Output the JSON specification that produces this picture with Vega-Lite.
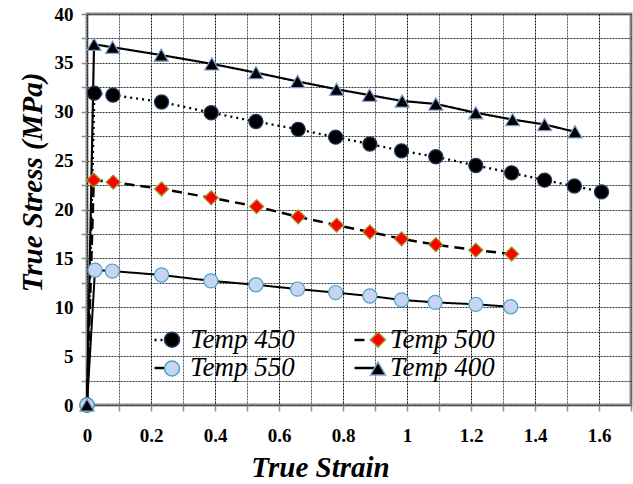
{
  "$schema": "https://vega.github.io/schema/vega-lite/v6.json",
  "width": 544,
  "height": 391,
  "autosize": {"type": "none"},
  "padding": {"left": 87, "top": 14, "right": 2, "bottom": 79},
  "background": "white",
  "config": {
    "view": {"stroke": "#8c8c8c", "strokeWidth": 3},
    "font": "Liberation Serif"
  },
  "data": {
    "values": [
      {"series": "Temp 450", "strain": 0, "stress": 0},
      {"series": "Temp 450", "strain": 0.023, "stress": 31.9},
      {"series": "Temp 450", "strain": 0.081, "stress": 31.7},
      {"series": "Temp 450", "strain": 0.233, "stress": 31.0},
      {"series": "Temp 450", "strain": 0.388, "stress": 29.9},
      {"series": "Temp 450", "strain": 0.528, "stress": 29.0},
      {"series": "Temp 450", "strain": 0.66, "stress": 28.2},
      {"series": "Temp 450", "strain": 0.777, "stress": 27.4},
      {"series": "Temp 450", "strain": 0.884, "stress": 26.7},
      {"series": "Temp 450", "strain": 0.983, "stress": 26.0},
      {"series": "Temp 450", "strain": 1.09, "stress": 25.4},
      {"series": "Temp 450", "strain": 1.215, "stress": 24.5},
      {"series": "Temp 450", "strain": 1.327, "stress": 23.75},
      {"series": "Temp 450", "strain": 1.43, "stress": 23.0},
      {"series": "Temp 450", "strain": 1.523, "stress": 22.4},
      {"series": "Temp 450", "strain": 1.608, "stress": 21.8},
      {"series": "Temp 500", "strain": 0, "stress": 0},
      {"series": "Temp 500", "strain": 0.021, "stress": 23.0},
      {"series": "Temp 500", "strain": 0.082, "stress": 22.8},
      {"series": "Temp 500", "strain": 0.233, "stress": 22.1},
      {"series": "Temp 500", "strain": 0.388, "stress": 21.2},
      {"series": "Temp 500", "strain": 0.53, "stress": 20.3},
      {"series": "Temp 500", "strain": 0.66, "stress": 19.25},
      {"series": "Temp 500", "strain": 0.78, "stress": 18.4},
      {"series": "Temp 500", "strain": 0.884, "stress": 17.7},
      {"series": "Temp 500", "strain": 0.983, "stress": 17.0},
      {"series": "Temp 500", "strain": 1.09, "stress": 16.4},
      {"series": "Temp 500", "strain": 1.215, "stress": 15.85},
      {"series": "Temp 500", "strain": 1.327, "stress": 15.45},
      {"series": "Temp 550", "strain": 0, "stress": 0},
      {"series": "Temp 550", "strain": 0.025, "stress": 13.8},
      {"series": "Temp 550", "strain": 0.079, "stress": 13.7},
      {"series": "Temp 550", "strain": 0.233, "stress": 13.3},
      {"series": "Temp 550", "strain": 0.387, "stress": 12.7},
      {"series": "Temp 550", "strain": 0.528, "stress": 12.3},
      {"series": "Temp 550", "strain": 0.658, "stress": 11.86},
      {"series": "Temp 550", "strain": 0.777, "stress": 11.5},
      {"series": "Temp 550", "strain": 0.884, "stress": 11.15},
      {"series": "Temp 550", "strain": 0.983, "stress": 10.75},
      {"series": "Temp 550", "strain": 1.088, "stress": 10.5},
      {"series": "Temp 550", "strain": 1.215, "stress": 10.3},
      {"series": "Temp 550", "strain": 1.324, "stress": 10.05},
      {"series": "Temp 400", "strain": 0, "stress": 0},
      {"series": "Temp 400", "strain": 0.022, "stress": 36.9},
      {"series": "Temp 400", "strain": 0.08, "stress": 36.6},
      {"series": "Temp 400", "strain": 0.232, "stress": 35.8},
      {"series": "Temp 400", "strain": 0.39, "stress": 34.9},
      {"series": "Temp 400", "strain": 0.528, "stress": 34.0},
      {"series": "Temp 400", "strain": 0.658, "stress": 33.1},
      {"series": "Temp 400", "strain": 0.78, "stress": 32.3},
      {"series": "Temp 400", "strain": 0.883, "stress": 31.7},
      {"series": "Temp 400", "strain": 0.985, "stress": 31.1},
      {"series": "Temp 400", "strain": 1.09, "stress": 30.8},
      {"series": "Temp 400", "strain": 1.215, "stress": 29.9},
      {"series": "Temp 400", "strain": 1.33, "stress": 29.2},
      {"series": "Temp 400", "strain": 1.43, "stress": 28.7},
      {"series": "Temp 400", "strain": 1.525, "stress": 27.95}
    ]
  },
  "encoding": {
    "x": {
      "field": "strain",
      "type": "quantitative",
      "scale": {"domain": [0, 1.7], "nice": false, "zero": true},
      "axis": {
        "title": "True Strain",
        "titleFont": "Liberation Serif",
        "titleFontStyle": "italic",
        "titleFontWeight": "bold",
        "titleFontSize": 29,
        "titleColor": "black",
        "titleX": 233,
        "titleY": 62,
        "titleBaseline": "middle",
        "values": [0, 0.1, 0.2, 0.3, 0.4, 0.5, 0.6, 0.7, 0.8, 0.9, 1, 1.1, 1.2, 1.3, 1.4, 1.5, 1.6, 1.7],
        "format": "~g",
        "labelExpr": "round(datum.value * 10) % 2 == 0 && datum.value < 1.65 ? datum.label : ''",
        "labelFont": "Liberation Serif",
        "labelFontWeight": "bold",
        "labelFontSize": 19,
        "labelColor": "black",
        "labelPadding": 15,
        "labelFlush": false,
        "labelOverlap": false,
        "domain": false,
        "ticks": true,
        "tickColor": "#8c8c8c",
        "tickSize": 6,
        "tickWidth": 1.5,
        "grid": true,
        "gridColor": {"condition": {"test": "round(datum.value * 10) % 2 == 0", "value": "#111111"}, "value": "#555555"},
        "gridDash": [2, 1],
        "gridWidth": 1
      }
    },
    "y": {
      "field": "stress",
      "type": "quantitative",
      "scale": {"domain": [0, 40], "nice": false},
      "axis": {
        "title": "True Stress (MPa)",
        "titleFont": "Liberation Serif",
        "titleFontStyle": "italic",
        "titleFontWeight": "bold",
        "titleFontSize": 29,
        "titleColor": "black",
        "titleX": -55,
        "titleY": 168,
        "titleBaseline": "middle",
        "values": [0, 2.5, 5, 7.5, 10, 12.5, 15, 17.5, 20, 22.5, 25, 27.5, 30, 32.5, 35, 37.5, 40],
        "labelExpr": "round(datum.value * 10) % 50 == 0 ? datum.label : ''",
        "format": "~g",
        "labelFont": "Liberation Serif",
        "labelFontWeight": "bold",
        "labelFontSize": 19,
        "labelColor": "black",
        "labelPadding": 8,
        "labelOverlap": false,
        "domain": false,
        "ticks": true,
        "tickColor": "#8c8c8c",
        "tickSize": 6,
        "tickWidth": 1.5,
        "grid": true,
        "gridColor": "#333333",
        "gridDash": [2, 1],
        "gridWidth": 1
      }
    }
  },
  "layer": [
    {
      "mark": {"type": "line", "color": "black"},
      "encoding": {
        "detail": {"field": "series", "type": "nominal"},
        "strokeDash": {
          "field": "series",
          "type": "nominal",
          "scale": {"domain": ["Temp 450", "Temp 500", "Temp 550", "Temp 400"], "range": [[2, 4], [10, 6], [1, 0], [1, 0]]},
          "legend": {
            "title": null,
            "orient": "none",
            "direction": "horizontal",
            "legendX": 66,
            "legendY": 312,
            "columns": 2,
            "columnPadding": 54,
            "rowPadding": 1,
            "symbolSize": 625,
            "symbolStrokeWidth": 2.5,
            "symbolStrokeColor": "black",
            "labelFont": "Liberation Serif",
            "labelFontStyle": "italic",
            "labelFontSize": 27,
            "labelColor": "black",
            "labelOffset": 9
          }
        },
        "strokeWidth": {
          "field": "series",
          "type": "nominal",
          "scale": {"domain": ["Temp 550", "Temp 400", "Temp 450", "Temp 500"], "range": [2, 2.5, 2.8, 2.5]},
          "legend": null
        }
      }
    },
    {
      "mark": {"type": "point", "filled": true, "strokeWidth": 1.2, "opacity": 1, "size": 200},
      "encoding": {
        "shape": {
          "field": "series",
          "type": "nominal",
          "scale": {"domain": ["Temp 400", "Temp 450", "Temp 500", "Temp 550"], "range": ["triangle-up", "circle", "diamond", "circle"]},
          "legend": {
            "title": null,
            "values": ["Temp 450", "Temp 500", "Temp 550", "Temp 400"],
            "orient": "none",
            "direction": "horizontal",
            "legendX": 71.5,
            "legendY": 312,
            "columns": 2,
            "columnPadding": 65,
            "rowPadding": 1,
            "symbolSize": 225,
            "symbolStrokeWidth": 1.5,
            "symbolOpacity": 1,
            "labelFont": "Liberation Serif",
            "labelFontStyle": "italic",
            "labelFontSize": 27,
            "labelColor": "black",
            "labelOpacity": 0,
            "labelOffset": 9
          }
        },
        "fill": {
          "field": "series",
          "type": "nominal",
          "scale": {"domain": ["Temp 400", "Temp 450", "Temp 500", "Temp 550"], "range": ["black", "black", "#ff0000", "#c6d6f0"]}
        },
        "stroke": {
          "field": "series",
          "type": "nominal",
          "scale": {"domain": ["Temp 400", "Temp 450", "Temp 500", "Temp 550"], "range": ["#7f9fd0", "#1f3864", "#9c9c2a", "#4ea1c9"]}
        }
      }
    }
  ]
}
